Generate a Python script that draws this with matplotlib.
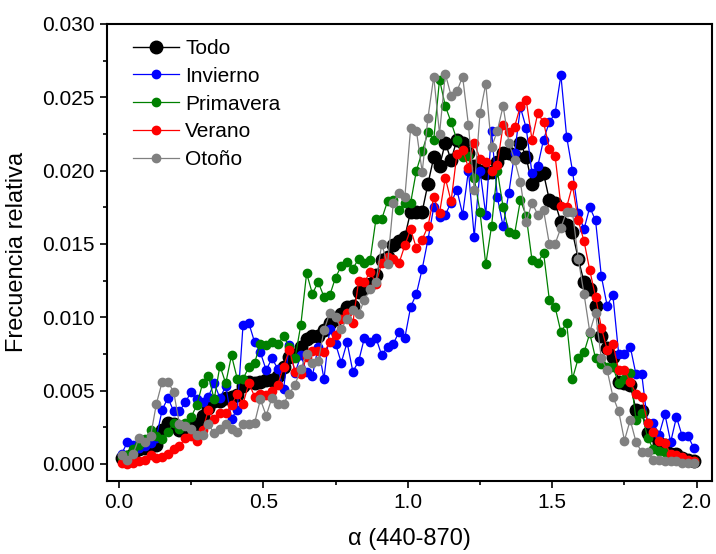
import numpy as np
import matplotlib
matplotlib.use('Agg')
import matplotlib.pyplot as plt
from matplotlib.ticker import MultipleLocator, FormatStrFormatter

plt.rcParams['font.family'] = ['Liberation Sans', 'DejaVu Sans']

# alfa (440-870), centros de clase cada 0.02
alfa = np.round(np.arange(0.01, 2.0, 0.02), 2)

todo = [0.0004, 0.0005, 0.0007, 0.0010, 0.0011, 0.0012, 0.0013, 0.0023, 0.0028, 0.0027,
        0.0023, 0.0025, 0.0026, 0.0027, 0.0033, 0.0038, 0.0043, 0.0043, 0.0045, 0.0046,
        0.0047, 0.0053, 0.0056, 0.0055, 0.0056, 0.0057, 0.0057, 0.0060, 0.0066, 0.0073,
        0.0074, 0.0080, 0.0085, 0.0087, 0.0087, 0.0091, 0.0096, 0.0099, 0.0102, 0.0107,
        0.0108, 0.0117, 0.0120, 0.0123, 0.0129, 0.0139, 0.0141, 0.0149, 0.0152, 0.0155,
        0.0172, 0.0172, 0.0172, 0.0191, 0.0209, 0.0203, 0.0219, 0.0207, 0.0221, 0.0219,
        0.0212, 0.0203, 0.0200, 0.0198, 0.0199, 0.0206, 0.0212, 0.0212, 0.0210, 0.0219,
        0.0209, 0.0191, 0.0197, 0.0198, 0.0180, 0.0178, 0.0165, 0.0163, 0.0158, 0.0140,
        0.0124, 0.0119, 0.0108, 0.0087, 0.0079, 0.0073, 0.0056, 0.0055, 0.0054, 0.0037,
        0.0036, 0.0021, 0.0020, 0.0014, 0.0013, 0.0007, 0.0007, 0.0004, 0.0003, 0.0002]

invierno = [0.0007, 0.0015, 0.0013, 0.0011, 0.0012, 0.0014, 0.0018, 0.0037, 0.0045, 0.0036,
            0.0036, 0.0042, 0.0049, 0.0044, 0.0042, 0.0046, 0.0055, 0.0045, 0.0053, 0.0031,
            0.0037, 0.0095, 0.0096, 0.0083, 0.0076, 0.0064, 0.0072, 0.0065, 0.0051, 0.0081,
            0.0062, 0.0074, 0.0063, 0.0060, 0.0080, 0.0058, 0.0092, 0.0082, 0.0069, 0.0083,
            0.0063, 0.0070, 0.0086, 0.0083, 0.0086, 0.0074, 0.0080, 0.0082, 0.0090, 0.0086,
            0.0107, 0.0116, 0.0133, 0.0153, 0.0175, 0.0168, 0.0170, 0.0178, 0.0187, 0.0170,
            0.0200, 0.0155, 0.0200, 0.0170, 0.0227, 0.0182, 0.0162, 0.0185, 0.0212, 0.0243,
            0.0229, 0.0198, 0.0203, 0.0221, 0.0233, 0.0239, 0.0265, 0.0223, 0.0200, 0.0171,
            0.0160, 0.0175, 0.0166, 0.0128, 0.0108, 0.0115, 0.0075, 0.0075, 0.0080, 0.0061,
            0.0061, 0.0028, 0.0028, 0.0020, 0.0034, 0.0015, 0.0032, 0.0019, 0.0019, 0.0011]

primavera = [0.0004, 0.0006, 0.0010, 0.0013, 0.0017, 0.0023, 0.0019, 0.0017, 0.0022, 0.0028,
             0.0024, 0.0028, 0.0032, 0.0040, 0.0055, 0.0060, 0.0044, 0.0067, 0.0055, 0.0074,
             0.0058, 0.0058, 0.0066, 0.0069, 0.0082, 0.0081, 0.0083, 0.0082, 0.0087, 0.0080,
             0.0072, 0.0095, 0.0130, 0.0116, 0.0124, 0.0114, 0.0115, 0.0127, 0.0135, 0.0138,
             0.0133, 0.0140, 0.0137, 0.0139, 0.0167, 0.0167, 0.0179, 0.0180, 0.0173, 0.0178,
             0.0178, 0.0200, 0.0213, 0.0226, 0.0221, 0.0262, 0.0244, 0.0233, 0.0221, 0.0209,
             0.0210, 0.0195, 0.0172, 0.0136, 0.0162, 0.0200, 0.0175, 0.0158, 0.0157, 0.0180,
             0.0169, 0.0139, 0.0137, 0.0144, 0.0112, 0.0107, 0.0090, 0.0096, 0.0058, 0.0072,
             0.0076, 0.0089, 0.0072, 0.0068, 0.0066, 0.0066, 0.0055, 0.0058, 0.0062, 0.0030,
             0.0035, 0.0018, 0.0010, 0.0009, 0.0008, 0.0005, 0.0004, 0.0003, 0.0002, 0.0002]

verano = [0.0001, 0.0000, 0.0001, 0.0002, 0.0003, 0.0006, 0.0004, 0.0005, 0.0007, 0.0010,
          0.0012, 0.0018, 0.0019, 0.0016, 0.0023, 0.0037, 0.0031, 0.0035, 0.0035, 0.0040,
          0.0048, 0.0041, 0.0055, 0.0046, 0.0048, 0.0047, 0.0050, 0.0054, 0.0066, 0.0078,
          0.0063, 0.0061, 0.0073, 0.0077, 0.0077, 0.0076, 0.0083, 0.0088, 0.0099, 0.0103,
          0.0096, 0.0125, 0.0124, 0.0131, 0.0123, 0.0137, 0.0141, 0.0140, 0.0137, 0.0149,
          0.0160, 0.0147, 0.0153, 0.0162, 0.0182, 0.0171, 0.0195, 0.0179, 0.0211, 0.0214,
          0.0202, 0.0219, 0.0208, 0.0206, 0.0200, 0.0204, 0.0231, 0.0226, 0.0230, 0.0244,
          0.0248, 0.0221, 0.0239, 0.0233, 0.0215, 0.0210, 0.0176, 0.0175, 0.0190, 0.0166,
          0.0152, 0.0132, 0.0114, 0.0093, 0.0078, 0.0082, 0.0064, 0.0064, 0.0056, 0.0048,
          0.0046, 0.0028, 0.0022, 0.0016, 0.0014, 0.0007, 0.0006, 0.0005, 0.0003, 0.0002]

otono = [0.0006, 0.0003, 0.0007, 0.0018, 0.0015, 0.0019, 0.0041, 0.0056, 0.0056, 0.0049,
         0.0027, 0.0026, 0.0024, 0.0020, 0.0020, 0.0027, 0.0021, 0.0024, 0.0027, 0.0024,
         0.0022, 0.0027, 0.0027, 0.0028, 0.0044, 0.0033, 0.0045, 0.0041, 0.0041, 0.0048,
         0.0054, 0.0065, 0.0075, 0.0069, 0.0070, 0.0091, 0.0103, 0.0100, 0.0092, 0.0099,
         0.0105, 0.0102, 0.0112, 0.0119, 0.0124, 0.0150, 0.0136, 0.0178, 0.0185, 0.0182,
         0.0229, 0.0227, 0.0199, 0.0236, 0.0264, 0.0225, 0.0266, 0.0251, 0.0254, 0.0264,
         0.0231, 0.0187, 0.0239, 0.0259, 0.0216, 0.0227, 0.0244, 0.0219, 0.0207, 0.0192,
         0.0165, 0.0178, 0.0170, 0.0173, 0.0150, 0.0150, 0.0161, 0.0172, 0.0172, 0.0140,
         0.0116, 0.0090, 0.0103, 0.0072, 0.0064, 0.0046, 0.0036, 0.0016, 0.0030, 0.0015,
         0.0008, 0.0008, 0.0003, 0.0003, 0.0002, 0.0002, 0.0002, 0.0001, 0.0001, 0.0001]

fig = plt.figure(figsize=(7.16, 5.54), dpi=100)
ax = fig.add_axes([0.149, 0.132, 0.845, 0.825])

ax.plot(alfa, todo, '-o', color='black', lw=1, ms=9, label='Todo')
ax.plot(alfa, invierno, '-o', color='#0000ff', lw=0.9, ms=6, label='Invierno')
ax.plot(alfa, primavera, '-o', color='#008000', lw=0.9, ms=6, label='Primavera')
ax.plot(alfa, verano, '-o', color='#ff0000', lw=0.9, ms=6, label='Verano')
ax.plot(alfa, otono, '-o', color='#808080', lw=0.9, ms=6, label='Otoño')

ax.set_xlim(-0.042, 2.052)
ax.set_ylim(-0.00115, 0.030)
ax.xaxis.set_major_locator(MultipleLocator(0.5))
ax.xaxis.set_minor_locator(MultipleLocator(0.25))
ax.yaxis.set_major_locator(MultipleLocator(0.005))
ax.yaxis.set_minor_locator(MultipleLocator(0.0025))
ax.xaxis.set_major_formatter(FormatStrFormatter('%.1f'))
ax.yaxis.set_major_formatter(FormatStrFormatter('%.3f'))
ax.tick_params(which='major', direction='out', length=5, width=1.2, labelsize=15)
ax.tick_params(which='minor', direction='out', length=3, width=1.2)
for s in ax.spines.values():
    s.set_linewidth(1.5)

ax.set_xlabel('α (440-870)', fontsize=17, labelpad=12)
ax.set_ylabel('Frecuencia relativa', fontsize=17, labelpad=10)

ax.legend(loc='upper left', bbox_to_anchor=(0.03, 0.985), frameon=False, fontsize=15,
          handlelength=2.2, handletextpad=0.3, labelspacing=0.42, borderaxespad=0)

fig.savefig('out.png', dpi=100)
